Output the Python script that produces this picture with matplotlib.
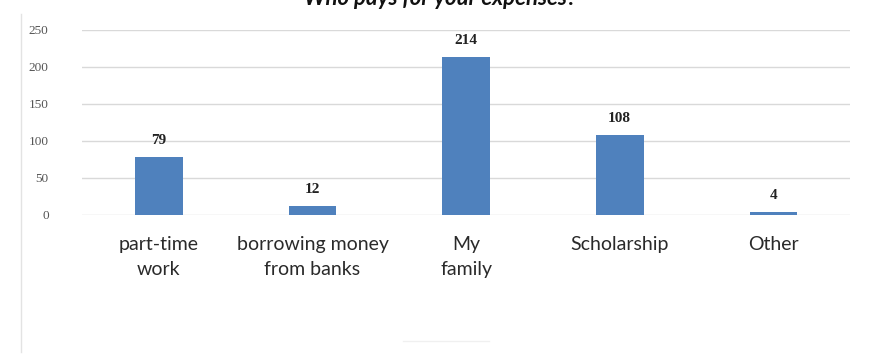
import matplotlib.pyplot as plt
from matplotlib.lines import Line2D

plt.rcParams.update({
    "font.family": "Lato",
    "savefig.facecolor": "white",
})

# Survey answers: who pays for the student's expenses
categories = ["part-time\nwork", "borrowing money\nfrom banks", "My\nfamily",
              "Scholarship", "Other"]
counts = [79, 12, 214, 108, 4]
y_ticks = [0, 50, 100, 150, 200, 250]
title = "Who pays for your expenses?"

bar_color = "#4F81BD"
grid_color = "#D9D9D9"

fig = plt.figure(figsize=(8.72, 3.54), dpi=100)
ax = fig.add_axes([0.094, 0.3927, 0.881, 0.5226])

x = range(len(categories))
bars = ax.bar(x, counts, width=0.31, color=bar_color, zorder=3)

# value labels above each bar
for b, v in zip(bars, counts):
    ax.annotate(str(v), (b.get_x() + b.get_width() / 2, v),
                xytext=(0, 7), textcoords="offset points",
                ha="center", va="bottom", fontsize=11, fontweight="bold",
                family="Liberation Serif", color="#222222")

ax.set_xlim(-0.5, len(categories) - 0.5)
ax.set_ylim(0, 250)
ax.set_yticks(y_ticks)
ax.set_yticklabels([str(t) for t in y_ticks], family="Liberation Serif",
                   fontsize=9.5, color="#555555")
ax.set_xticks(list(x))
ax.set_xticklabels(categories, fontsize=14, color="#2a2a2a",
                   linespacing=1.6)
ax.tick_params(axis="both", length=0)
ax.tick_params(axis="y", pad=24)
ax.tick_params(axis="x", pad=15)

ax.yaxis.grid(True, color=grid_color, linewidth=1.0, zorder=0)
for s in ax.spines.values():
    s.set_visible(False)

# title sits at the very top edge of the canvas
fig.text(0.505, 0.985, title, ha="center", va="baseline", fontsize=16,
         fontweight="bold", style="italic", color="#111111")

# thin frame remnants on the left and at the bottom
fig.add_artist(Line2D([21 / 872, 21 / 872], [0.005, 0.96],
                      color="#E3E3E3", linewidth=1.0))
fig.add_artist(Line2D([403 / 872, 489 / 872], [1 - 341 / 354] * 2,
                      color="#F0F0F0", linewidth=1.0))

fig.savefig("out.png", dpi=100)
